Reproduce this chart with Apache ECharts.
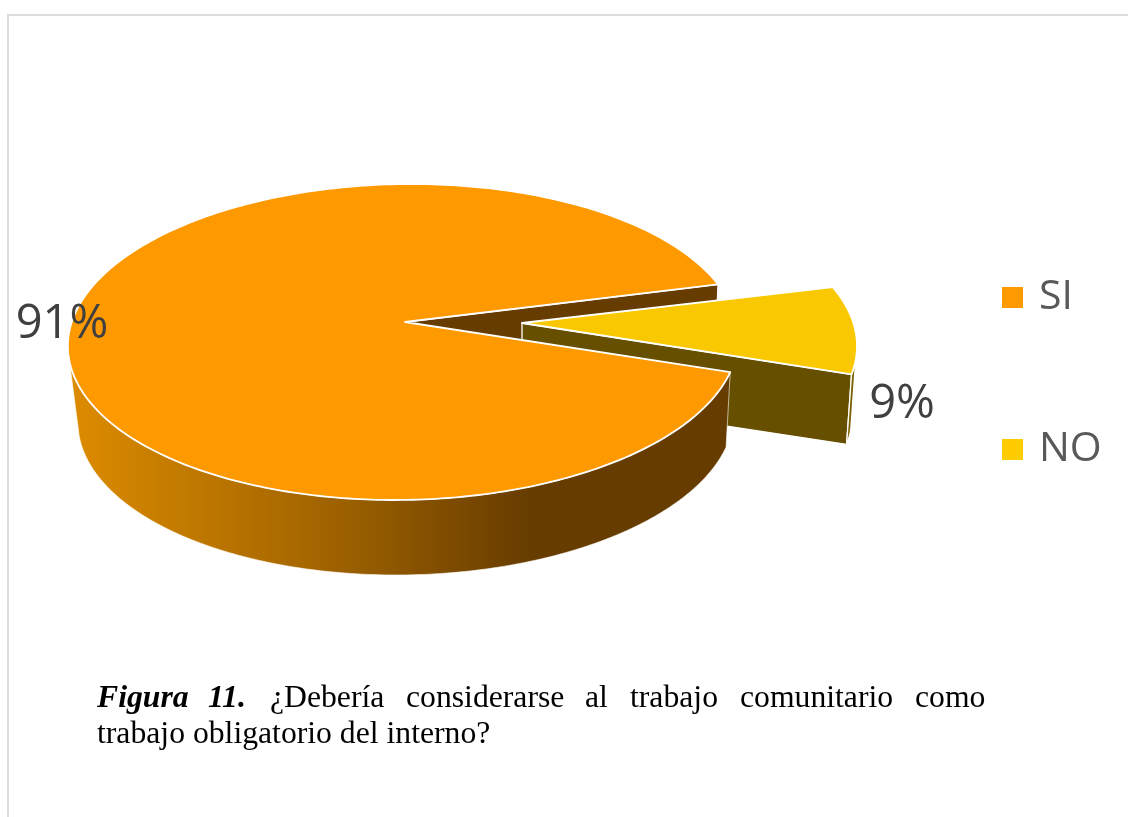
<!DOCTYPE html>
<html><head><meta charset="utf-8">
<style>html,body{margin:0;padding:0;background:#fff}#c{width:1128px;height:817px}</style>
<script src="https://cdn.jsdelivr.net/npm/echarts@6/dist/echarts.min.js"></script>
</head><body><div id="c"></div>
<script>
var categories = ['SI', 'NO'];
var seriesValues = [91, 9];
var captionLine1 = ['Figura', '11.', '¿Debería', 'considerarse', 'al', 'trabajo', 'comunitario', 'como'];
var captionLine2 = 'trabajo obligatorio del interno?';

// ---- layout / style only (no data below this line) ----
var colors = ['#FF9900', '#FAC800'];
var legendColors = ['#FF9900', '#FFCC00'];
var total = seriesValues.reduce(function (a, b) { return a + b; }, 0);
var geo = [
  { top: {cx: 403, cy: 342, rx: 335, ry: 158, sh: 8.5}, bot: {cx: 406, cy: 417, rx: 328, ry: 158, sh: 10},
    apexTop: [405, 322], apexBot: [405, 395], start: 11 },
  { top: {cx: 524, cy: 346, rx: 333, ry: 157, sh: 0}, bot: {cx: 524, cy: 416, rx: 328, ry: 157, sh: 0},
    apexTop: [522, 323], apexBot: [522, 395], start: -22 }
];
var labelPos = [[62, 325], [902, 405]];
var captionX = [97, 208, 270, 406, 585, 630, 740, 915];

function rim(e, deg) {
  var t = deg * Math.PI / 180;
  return [e.cx + e.rx * Math.cos(t) - e.sh * Math.sin(t), e.cy + e.ry * Math.sin(t)];
}
function arc(e, a, b) {
  var n = Math.max(2, Math.ceil(Math.abs(b - a))), pts = [];
  for (var i = 0; i <= n; i++) pts.push(rim(e, a + (b - a) * i / n));
  return pts;
}
function poly(points, fill, z2, lw, stroke) {
  return { type: 'polygon', z2: z2, shape: { points: points },
    style: { fill: fill, stroke: stroke === undefined ? '#fff' : stroke, lineWidth: lw === undefined ? 1.3 : lw, lineJoin: 'round' } };
}
function label(i, v) {
  return { type: 'text', z2: 20, x: labelPos[i][0], y: labelPos[i][1],
    style: { text: Math.round(v / total * 100) + '%', fill: '#404040', fontSize: 47,
      fontFamily: 'Open Sans', align: 'center', verticalAlign: 'middle' } };
}
function renderSI(params, api) {
  var v = api.value(0), g = geo[0], sweep = v / total * 360, a = g.start, b = a + sweep;
  var wallGrad = new echarts.graphic.LinearGradient(0, 0, 1, 0, [
    {offset: 0, color: '#DE8C00'}, {offset: 0.13, color: '#C87E00'}, {offset: 0.35, color: '#A86800'},
    {offset: 0.7, color: '#663C00'}, {offset: 1, color: '#663C00'}]);
  var inner = [g.apexTop, rim(g.top, b), rim(g.bot, b), g.apexBot];
  var outer = arc(g.top, a, 173).concat(arc(g.bot, 173, a));
  var top = [g.apexTop].concat(arc(g.top, a, b));
  return { type: 'group', children: [
    poly(inner, '#663C00', 1),
    poly(outer, wallGrad, 5, 0.6),
    poly(top, colors[0], 6, 1.8),
    label(0, v)
  ]};
}
function renderNO(params, api) {
  var v = api.value(0), g = geo[1], sweep = v / total * 360, a = g.start, b = a + sweep;
  var wall = [g.apexTop, rim(g.top, b), rim(g.bot, b), g.apexBot];
  var side = arc(g.top, 5, b).concat(arc(g.bot, b, 5));
  var top = [g.apexTop].concat(arc(g.top, a, b));
  return { type: 'group', children: [
    poly(wall, '#665000', 2),
    poly(side, '#7A6000', 2),
    poly(top, colors[1], 3, 1.8),
    label(1, v)
  ]};
}
var graphics = [{ type: 'rect', z: -1, shape: {x: 8, y: 15, width: 1140, height: 830},
  style: {fill: '#fff', stroke: '#DDDDDD', lineWidth: 2}}];
captionLine1.forEach(function (w, i) {
  var bold = i < 2;
  graphics.push({ type: 'text', x: captionX[i], y: 699, style: { text: w, fill: '#000',
    font: (bold ? 'italic bold ' : '') + '31.7px "Liberation Serif"', verticalAlign: 'middle' } });
});
graphics.push({ type: 'text', x: 97, y: 735, style: { text: captionLine2, fill: '#000',
  font: '31.7px "Liberation Serif"', verticalAlign: 'middle' } });

var chart = echarts.init(document.getElementById('c'), null, {renderer: 'canvas'});
chart.setOption({
  animation: false,
  backgroundColor: '#fff',
  graphic: graphics,
  legend: {
    orient: 'vertical', left: 1002, top: 277, padding: 0, itemWidth: 21, itemHeight: 21, itemGap: 111,
    selectedMode: false, icon: 'rect',
    textStyle: { color: '#595959', fontSize: 41, fontFamily: 'Open Sans', padding: [4, 0, 0, 11] },
    data: categories.map(function (c, i) { return { name: c, icon: 'rect', itemStyle: { color: legendColors[i] } }; })
  },
  series: [
    { type: 'custom', name: categories[0], coordinateSystem: 'none', renderItem: renderSI,
      itemStyle: {color: colors[0]}, data: [[seriesValues[0]]] },
    { type: 'custom', name: categories[1], coordinateSystem: 'none', renderItem: renderNO,
      itemStyle: {color: colors[1]}, data: [[seriesValues[1]]] }
  ]
});
</script></body></html>
